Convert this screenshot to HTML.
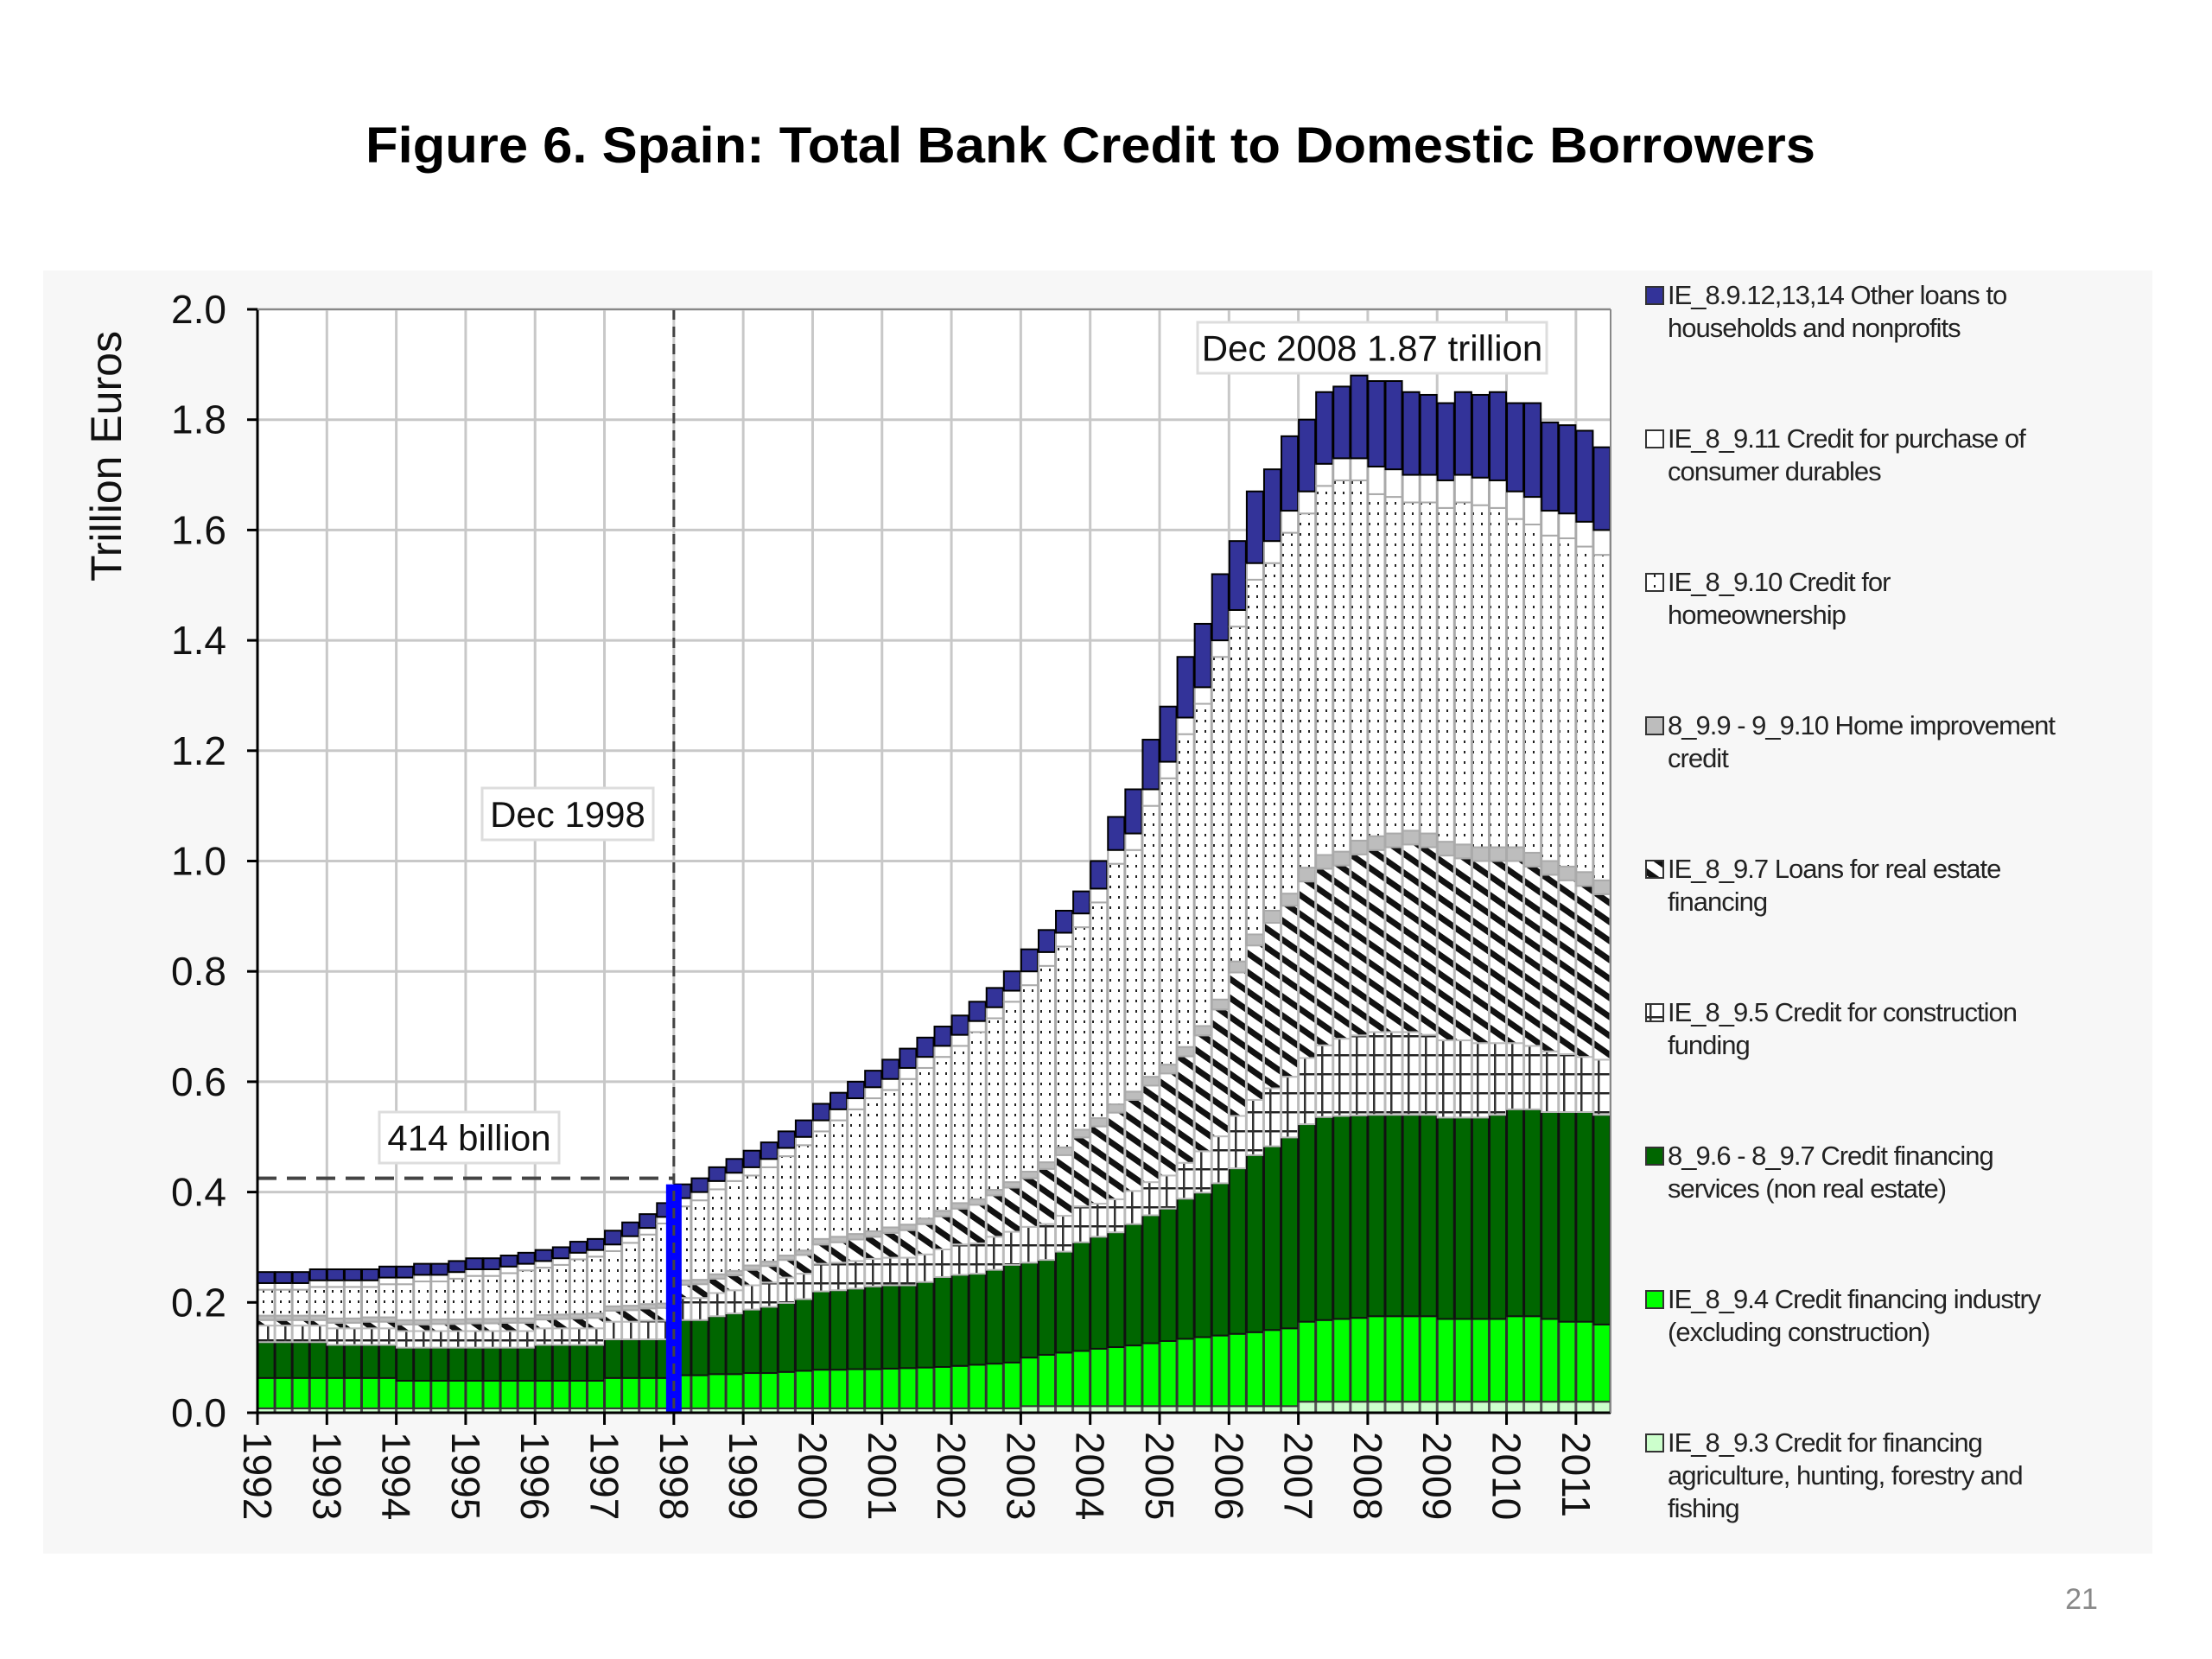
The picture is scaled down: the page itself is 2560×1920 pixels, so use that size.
<!DOCTYPE html>
<html><head><meta charset="utf-8"><style>
html,body{margin:0;padding:0;background:#fff;}
svg{display:block;font-family:"Liberation Sans",Arial,sans-serif;}
</style></head><body>
<svg id="chart" width="2560" height="1920" viewBox="0 0 2560 1920" xmlns="http://www.w3.org/2000/svg">
<defs>
<pattern id="pDots" width="10" height="12" patternUnits="userSpaceOnUse"><rect width="10" height="12" fill="#fff"/><rect x="4" y="5" width="2" height="3" fill="#222"/></pattern>
<pattern id="pStripe" width="18" height="18" patternUnits="userSpaceOnUse" patternTransform="rotate(35)"><rect width="18" height="18" fill="#fff"/><rect x="0" y="0" width="18" height="7" fill="#111"/></pattern>
<pattern id="pCons" width="20" height="22" patternUnits="userSpaceOnUse"><rect width="20" height="22" fill="#fff"/><rect x="0" y="10" width="20" height="2.5" fill="#222"/><rect x="9" y="0" width="2.5" height="22" fill="#333"/></pattern>
</defs>
<rect x="0" y="0" width="2560" height="1920" fill="#fff"/>
<text x="1262" y="188" text-anchor="middle" font-size="58" font-weight="bold" textLength="1678" lengthAdjust="spacingAndGlyphs" fill="#000">Figure 6. Spain: Total Bank Credit to Domestic Borrowers</text>
<rect x="50" y="313" width="2441" height="1485" fill="#f7f7f7"/>
<rect x="298" y="358" width="1566" height="1277" fill="#fff"/>
<g id="grid"></g>
<g id="bars"></g>
<g id="overlay"></g>
<g id="axes"></g>
<g id="legend"></g>
<text x="2409" y="1862" text-anchor="middle" font-size="34" fill="#888">21</text>
</svg>
<script>
const years = ["1992","1993","1994","1995","1996","1997","1998","1999","2000","2001","2002","2003","2004","2005","2006","2007","2008","2009","2010","2011"];
const yTicks = [0,0.2,0.4,0.6,0.8,1.0,1.2,1.4,1.6,1.8,2.0];
const total = [.255,.255,.255,.26, .26,.26,.26,.265, .265,.27,.27,.275, .28,.28,.285,.29, .295,.30,.31,.315, .33,.345,.36,.38, .414,.425,.445,.46, .475,.49,.51,.53, .56,.58,.60,.62, .64,.66,.68,.70, .72,.745,.77,.80, .84,.875,.91,.945, 1.00,1.08,
 1.13,1.22,1.28,1.37,1.43,1.52,1.58,1.67,1.71,1.77,1.80,1.85,1.86,1.88,1.87,1.87,1.85,1.845,1.83,1.85,1.845,1.85,1.83,1.83,1.795,1.79,1.78,1.75];
const otherLoans = [.02,.02,.02,.02,.02,.02,.02,.02,.02,.02,.02,.02,.02,.02,.02,.02,.02,.02,.02,.02, .025,.025,.025,.025,.025,.025,.025,.025, .03,.03,.03,.03,.03,.03,.03,.03, .035,.035,.035,.035,.035,.035,.035,.035, .04,.04,.04,.04,.05,.06,
 .08,.09,.10,.11,.115,.12,.125,.13,.13,.135,.13,.13,.13,.15,.155,.16,.15,.145,.14,.15,.15,.16,.16,.17,.16,.16,.165,.15];
const durables = [.012,.012,.012,.012,.012,.012,.012,.012,.012,.012,.012,.012,.012,.012,.012,.012,.012,.012,.012,.012,.012,.012,.012,.012, .015,.015,.015,.015,.015,.015,.015,.015, .02,.02,.02,.02,.02,.02,.02,.02,.02,.02,.02,.02, .025,.025,.025,.025,.025,.025,
 .03,.03,.03,.03,.03,.03,.03,.03, .04,.04,.04,.04,.04,.04, .05,.05,.05,.05,.05,.05,.05,.05,.05,.05,.045,.045,.045,.045];
const improvement = [.008,.008,.008,.008,.008,.008,.008,.008,.008,.008,.008,.008,.008,.008,.008,.008,.008,.008,.008,.008,.008,.008,.008,.008,.008,.008,.008,.008,.008,.008,.008,.008, .01,.01,.01,.01,.01,.01,.01,.01,.01,.01,.01,.01,.012,.012,.014,.014, .015,.015,.015,.016,.016,.017,.017,.018, .02,.02,.022,.022,
 .025,.025,.025,.025,.025,.025,.025,.025,.025,.025,.025,.025,.025,.025,.025,.025,.025,.025];
const realEstate = [.01,.01,.01,.01,.01,.01,.012,.012,.012,.012,.013,.013,.014,.014,.015,.015, .016,.017,.018,.019,.02,.021,.022,.023, .024,.025,.026,.027,.028,.03,.032,.034,
 .035,.037,.039,.04,.045,.05,.055,.06, .065,.07,.075,.08,.088,.10,.11,.125, .14,.157,.165,.175,.185,.193,.21,.23, .26,.28,.30,.31,.32,.32,.314,.328,
 .33,.335,.34,.34,.335,.33,.33,.33,.33,.325,.32,.315,.31,.30];
const construction = [.03,.03,.03,.03,.03,.03,.03,.03,.03,.03,.03,.03,.03,.03,.03,.03,.03,.03,.03,.03,.032,.032,.034,.034, .04,.04,.042,.042,.044,.044,.046,.046,
 .05,.05,.05,.05,.05,.05,.05,.05, .055,.055,.06,.06,.065,.065,.065,.065, .06,.06,.06,.06,.06,.065,.075,.085, .095,.10,.105,.11,.12,.13,.14,.145,
 .15,.15,.15,.145,.14,.14,.135,.13,.12,.115,.11,.105,.10,.10];
const services = [.065,.065,.065,.065,.06,.06,.06,.06,.06,.06,.06,.06,.06,.06,.06,.06,.065,.065,.065,.065,.07,.07,.07,.07, .10,.10,.105,.11,.115,.12,.125,.13,
 .142,.144,.146,.15,.151,.15,.155,.163, .165,.165,.17,.177,.172,.172,.183,.197, .203,.208,.22,.232,.24,.254,.262,.276, .30,.321,.333,.346,.358,.368,.368,.367,
 .365,.365,.365,.365,.365,.365,.365,.37,.375,.375,.375,.38,.38,.38];
const industry = [.055,.055,.055,.055,.055,.055,.055,.055, .05,.05,.05,.05,.05,.05,.05,.05,.05,.05,.05,.05, .055,.055,.055,.055, .06,.06,.062,.062,.064,.064,.066,.068,
 .07,.07,.071,.071,.072,.073,.074,.075, .077,.079,.081,.083,.088,.093,.097,.10, .104,.107,.11,.114,.118,.122,.125,.128, .131,.134,.138,.141,.145,.148,.15,.152,
 .155,.155,.155,.155,.15,.15,.15,.15,.155,.155,.15,.145,.145,.14];
const agriculture = [.008,.008,.008,.008,.008,.008,.008,.008,.008,.008,.008,.008,.008,.008,.008,.008,.008,.008,.008,.008,.008,.008,.008,.008,.008,.008,.008,.008,.008,.008,.008,.008,.008,.008,.008,.008,.008,.008,.008,.008,.008,.008,.008,.008,
 .012,.012,.012,.012,.012,.012,.012,.012,.012,.012,.012,.012,.012,.012,.012,.012,.02,.02,.02,.02,.02,.02,.02,.02,.02,.02,.02,.02,.02,.02,.02,.02,.02,.02];
const highlightIndex = 24;
const highlightValue = 0.414;
const refLevel = 0.425;

const NS = "http://www.w3.org/2000/svg";
const X0 = 298, X1 = 1864, Y0 = 1635, YTOP = 358, YMAX = 2.0;
const n = total.length;
const bw = (X1 - X0) / n;
const xScale = i => X0 + i * bw;
const yScale = v => Y0 - v / YMAX * (Y0 - YTOP);
function mk(tag, attrs, parent){ const e = document.createElementNS(NS, tag); for (const k in attrs) e.setAttribute(k, attrs[k]); parent.appendChild(e); return e; }
const grid = document.getElementById('grid'), bars = document.getElementById('bars'), overlay = document.getElementById('overlay'), axes = document.getElementById('axes'), legend = document.getElementById('legend');

yTicks.forEach(t => {
  const l = mk('line', {x1:X0, x2:X1, y1:yScale(t), y2:yScale(t), stroke:'#c8c8c8', 'stroke-width':3}, grid);
  
  
  const tx = mk('text', {x:262, y:yScale(t)+16, 'text-anchor':'end', 'font-size':46, fill:'#111'}, axes);
  tx.textContent = t.toFixed(1);
  
  
  const tk = mk('line', {x1:X0-12, x2:X0, y1:yScale(t), y2:yScale(t), stroke:'#000', 'stroke-width':3}, axes);
  
  
});
years.forEach((yr, k) => {
  const x = xScale(k * 4);
  const l = mk('line', {x1:x, x2:x, y1:YTOP, y2:Y0, stroke:'#c8c8c8', 'stroke-width':3}, grid);
  
  
  const tk = mk('line', {x1:x, x2:x, y1:Y0, y2:Y0+14, stroke:'#000', 'stroke-width':3}, axes);
  
  
  const tx = mk('text', {x:0, y:0, 'font-size':46, fill:'#111', transform:`translate(${x-16},${Y0+22}) rotate(90)`}, axes);
  tx.textContent = yr;
  
  
});

const stack = [
  {name:'agriculture', arr:agriculture, fill:'#ccffcc', stroke:'#555'},
  {name:'industry', arr:industry, fill:'#00ff00', stroke:'#333'},
  {name:'services', arr:services, fill:'#006600', stroke:'#111'},
  {name:'construction', arr:construction, fill:'url(#pCons)', stroke:'#bbb'},
  {name:'real-estate', arr:realEstate, fill:'url(#pStripe)', stroke:'#bbb'},
  {name:'home-improvement', arr:improvement, fill:'#bdbdbd', stroke:'#aaa'},
  {name:'homeownership', arr:null, fill:'url(#pDots)', stroke:'#aaa'},
  {name:'consumer-durables', arr:durables, fill:'#ffffff', stroke:'#aaa'},
  {name:'other-loans', arr:otherLoans, fill:'#333399', stroke:'#000'}
];
for (let i = 0; i < n; i++) {
  const below = agriculture[i]+industry[i]+services[i]+construction[i]+realEstate[i]+improvement[i];
  const home = Math.max(0, total[i] - below - durables[i] - otherLoans[i]);
  let base = 0;
  stack.forEach(s => {
    const v = s.arr ? s.arr[i] : home;
    const yT = yScale(base + v), yB = yScale(base);
    const r = mk('rect', {x:xScale(i)+0.5, y:yT, width:bw-1, height:Math.max(0, yB-yT), fill:s.fill, stroke:s.stroke, 'stroke-width':2}, bars);
    
    
    base += v;
  });
}
const hx = xScale(highlightIndex);
const hb = mk('rect', {x:hx-9, y:yScale(highlightValue), width:18, height:Y0-yScale(highlightValue), fill:'#0000ff'}, overlay);


const vd = mk('line', {x1:hx, x2:hx, y1:YTOP, y2:Y0, stroke:'#444', 'stroke-width':3, 'stroke-dasharray':'12,8'}, overlay);


const hd = mk('line', {x1:X0, x2:hx, y1:yScale(refLevel), y2:yScale(refLevel), stroke:'#444', 'stroke-width':4, 'stroke-dasharray':'22,12'}, overlay);



function label(x, y, w, h, txt, name){
  const r = mk('rect', {x:x, y:y, width:w, height:h, fill:'#fff', stroke:'#ddd', 'stroke-width':3}, overlay);
  
  
  const t = mk('text', {x:x+w/2, y:y+h/2+15, 'text-anchor':'middle', 'font-size':42, fill:'#111'}, overlay);
  t.textContent = txt;
  
  
}
label(1386, 373, 404, 59, 'Dec 2008 1.87 trillion', 'peak-annotation');
label(558, 912, 198, 60, 'Dec 1998', 'dec-1998-annotation');
label(439, 1287, 208, 59, '414 billion', 'billion-annotation');

const ax1 = mk('line', {x1:X0, x2:X0, y1:YTOP, y2:Y0, stroke:'#000', 'stroke-width':3}, axes);


const ax2 = mk('line', {x1:X0, x2:X1, y1:Y0, y2:Y0, stroke:'#000', 'stroke-width':3}, axes);


const ax3 = mk('line', {x1:X1, x2:X1, y1:YTOP, y2:Y0, stroke:'#888', 'stroke-width':2}, axes);


const ax4 = mk('line', {x1:X0, x2:X1, y1:YTOP, y2:YTOP, stroke:'#888', 'stroke-width':2}, axes);


const yt = mk('text', {x:0, y:0, 'font-size':50, fill:'#111', 'text-anchor':'middle', transform:'translate(140,528) rotate(-90)'}, axes);
yt.textContent = 'Trillion Euros';



const legendItems = [
  ['#333399', 'IE_8.9.12,13,14 Other loans to', 'households and nonprofits'],
  ['#ffffff', 'IE_8_9.11 Credit for purchase of', 'consumer durables'],
  ['url(#pDots)', 'IE_8_9.10 Credit for', 'homeownership'],
  ['#bdbdbd', '8_9.9 - 9_9.10 Home improvement', 'credit'],
  ['url(#pStripe)', 'IE_8_9.7 Loans for real estate', 'financing'],
  ['url(#pCons)', 'IE_8_9.5 Credit for construction', 'funding'],
  ['#006600', '8_9.6 - 8_9.7 Credit financing', 'services (non real estate)'],
  ['#00ff00', 'IE_8_9.4 Credit financing industry', '(excluding construction)'],
  ['#ccffcc', 'IE_8_9.3 Credit for financing', 'agriculture, hunting, forestry and', 'fishing']
];
legendItems.forEach((it, k) => {
  const y = 352 + k * 166;
  const m = mk('rect', {x:1905, y:y-20, width:20, height:20, fill:it[0], stroke:'#333', 'stroke-width':2}, legend);
  
  
  for (let j = 1; j < it.length; j++) {
    const t = mk('text', {x:1930, y:y + (j-1)*38, 'font-size':31, 'letter-spacing':'-1', fill:'#222'}, legend);
    t.textContent = it[j];
    
    
  }
});
</script>
</body></html>
